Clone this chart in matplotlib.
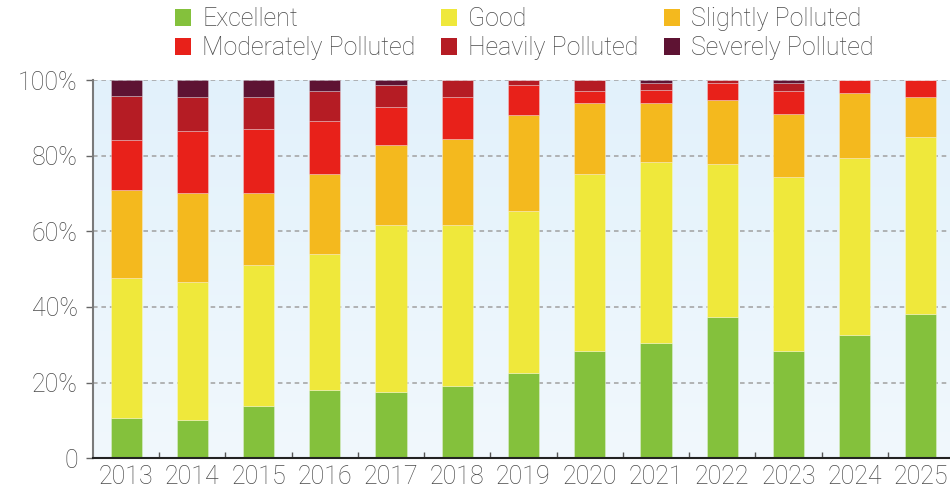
import matplotlib
matplotlib.use("Agg")
import matplotlib.pyplot as plt
import numpy as np
from matplotlib.patches import Patch
from matplotlib.colors import LinearSegmentedColormap

years = ["2013", "2014", "2015", "2016", "2017", "2018", "2019",
         "2020", "2021", "2022", "2023", "2024", "2025"]
categories = ["Excellent", "Good", "Slightly Polluted",
              "Moderately Polluted", "Heavily Polluted", "Severely Polluted"]
excellent = [10.6, 10.1, 13.8, 18.1, 17.6, 19.1, 22.5, 28.4, 30.5, 37.4, 28.4, 32.6, 38.2]
good      = [37.1, 36.5, 37.2, 35.9, 44.1, 42.6, 42.9, 46.8, 47.8, 40.4, 46.0, 46.8, 46.7]
slightly  = [23.2, 23.5, 19.1, 21.2, 21.1, 22.7, 25.3, 18.8, 15.7, 16.8, 16.6, 17.2, 10.6]
moderate  = [13.2, 16.4, 17.0, 14.0, 10.1, 11.1, 8.0, 3.1, 3.4, 4.6, 6.1, 3.4, 4.5]
heavily   = [11.7, 9.0, 8.5, 7.9, 5.8, 4.5, 1.3, 2.9, 1.8, 0.8, 2.1, 0.0, 0.0]
severely  = [4.2, 4.5, 4.5, 2.9, 1.3, 0.0, 0.0, 0.0, 0.8, 0.0, 0.8, 0.0, 0.0]
series = [excellent, good, slightly, moderate, heavily, severely]
colors = ["#84c13c", "#efe83b", "#f4b91e", "#e8211a", "#b51c24", "#5e1333"]

plt.rcParams['font.family'] = ['Roboto', 'DejaVu Sans']
plt.rcParams['font.weight'] = 'light'
txtc = "#4a4a4a"

fig = plt.figure(figsize=(9.5, 4.94), dpi=100)
ax = fig.add_axes([93/950, 1-458.3/494, 1-93/950, (458.3-80)/494])

# background gradient
grad = np.linspace(0, 1, 256).reshape(-1, 1)
cmap = LinearSegmentedColormap.from_list("bg", ["#f1f8fd", "#e2f1fb"])
ax.imshow(grad, aspect='auto', cmap=cmap, origin='lower',
          extent=[-0.5, 12.44, 0, 100], zorder=0)

x = np.arange(len(years))
for gv in [20, 40, 60, 80, 100]:
    ax.axhline(gv, color="#a0a0a0", lw=1.1, ls=(0, (3, 2.5)), zorder=1)

bottom = np.zeros(len(years))
for vals, c in zip(series, colors):
    v = np.array(vals)
    ax.bar(x, v, width=0.47, bottom=bottom, color=c, edgecolor=(1, 1, 1, 0.4),
           linewidth=0.5, zorder=2)
    bottom += v

ax.set_xlim(-0.5, 12.44)
ax.set_ylim(0, 100)
ax.set_xticks(x)
ax.set_xticklabels(years)
ax.set_xticks(np.arange(0.5, 12, 1), minor=True)
ax.tick_params(axis='x', which='major', length=0, pad=5, labelsize=18, labelcolor=txtc)
ax.tick_params(axis='x', which='minor', length=4, direction='in', color="#555555", width=1)
ax.set_yticks([0, 20, 40, 60, 80, 100])
ax.set_yticklabels(["0", "20%", "40%", "60%", "80%", "100%"])
ax.tick_params(axis='y', length=5, width=1, color="#666666", pad=6, labelsize=18, labelcolor=txtc)

for s in ['top', 'right']:
    ax.spines[s].set_visible(False)
ax.spines['left'].set_color("#7a7a7a")
ax.spines['left'].set_linewidth(1.5)
ax.spines['bottom'].set_color("#222222")
ax.spines['bottom'].set_linewidth(1.5)

handles = [Patch(facecolor=c, edgecolor='none') for c in colors]
order = [0, 3, 1, 4, 2, 5]
fig.legend([handles[i] for i in order], [categories[i] for i in order],
           ncol=3, loc='upper left', bbox_to_anchor=(175/950, 1 - 7/494),
           frameon=False, fontsize=18, handlelength=0.65, handleheight=0.65,
           handletextpad=0.45, columnspacing=1.0, labelspacing=0.2,
           borderaxespad=0.0, borderpad=0.0, labelcolor=txtc)

fig.savefig("out.png", dpi=100)
